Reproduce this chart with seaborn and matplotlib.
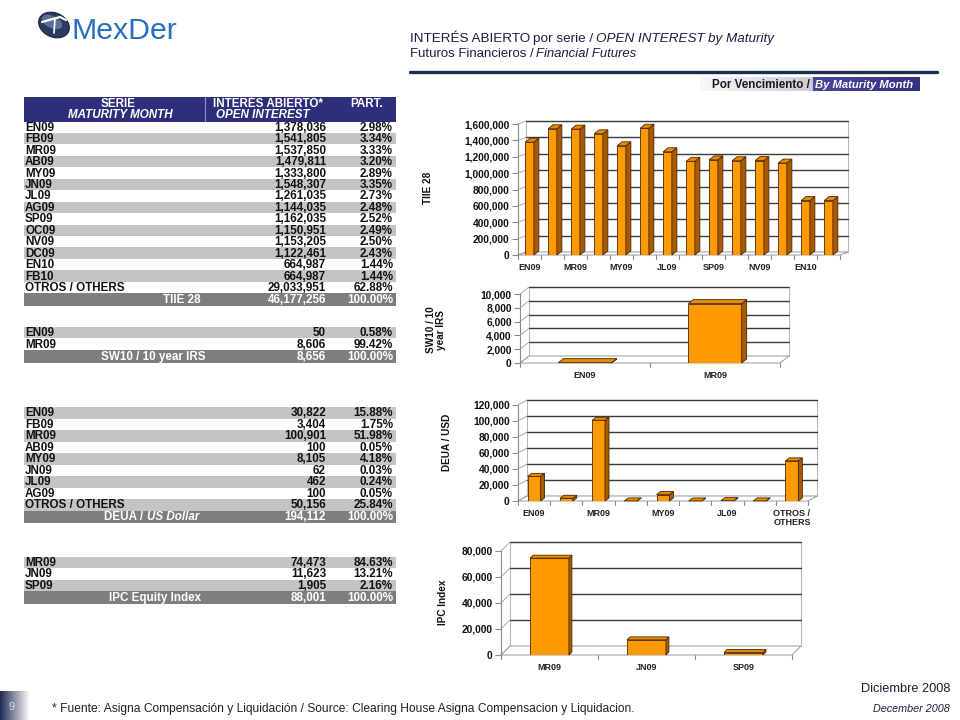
import matplotlib
matplotlib.use("Agg")
import matplotlib.pyplot as plt
import seaborn as sns
import numpy as np
import pandas as pd
from matplotlib.patches import Rectangle, Polygon, Ellipse
from matplotlib.lines import Line2D
from matplotlib.transforms import IdentityTransform

# ---------------- data ----------------
tiie_series = ["EN09", "FB09", "MR09", "AB09", "MY09", "JN09", "JL09", "AG09",
               "SP09", "OC09", "NV09", "DC09", "EN10", "FB10"]
tiie_values = [1378036, 1541805, 1537850, 1479811, 1333800, 1548307, 1261035,
               1144035, 1162035, 1150951, 1153205, 1122461, 664987, 664987]
tiie_pct = [2.98, 3.34, 3.33, 3.20, 2.89, 3.35, 2.73, 2.48, 2.52, 2.49, 2.50,
            2.43, 1.44, 1.44]
tiie_others_label = "OTROS / OTHERS"
tiie_others_value = 29033951
tiie_others_pct = 62.88
tiie_total = 46177256

sw10_series = ["EN09", "MR09"]
sw10_values = [50, 8606]
sw10_pct = [0.58, 99.42]
sw10_total = 8656

deua_series = ["EN09", "FB09", "MR09", "AB09", "MY09", "JN09", "JL09", "AG09",
               "OTROS / OTHERS"]
deua_values = [30822, 3404, 100901, 100, 8105, 62, 462, 100, 50156]
deua_pct = [15.88, 1.75, 51.98, 0.05, 4.18, 0.03, 0.24, 0.05, 25.84]
deua_total = 194112

ipc_series = ["MR09", "JN09", "SP09"]
ipc_values = [74473, 11623, 1905]
ipc_pct = [84.63, 13.21, 2.16]
ipc_total = 88001

tiie_ticks = [0, 200000, 400000, 600000, 800000, 1000000, 1200000, 1400000, 1600000]
sw10_ticks = [0, 2000, 4000, 6000, 8000, 10000]
deua_ticks = [0, 20000, 40000, 60000, 80000, 100000, 120000]
ipc_ticks = [0, 20000, 40000, 60000, 80000]

# ---------------- style ----------------
sns.set_theme(style="white")
plt.rcParams['font.family'] = ['Liberation Sans', 'DejaVu Sans']
NARROW = ['Liberation Sans Narrow', 'Liberation Sans', 'DejaVu Sans']
ORANGE = "#FF9900"
TOP = "#E88A00"
SIDE = "#A85A00"
EDGE = "#4A2800"
NAVY = "#2E2E7C"
GRAYROW = "#C4C4C4"
TOTALROW = "#7E7E7E"

W, H = 960, 720
fig = plt.figure(figsize=(W / 100, H / 100), dpi=100)
fig.patch.set_facecolor("white")
bg = fig.add_axes([0, 0, 1, 1], zorder=0)
bg.set_xlim(0, W)
bg.set_ylim(H, 0)
bg.axis("off")
renderer = fig.canvas.get_renderer()


def fit_text(x, y, s, target_w, size, ha="left", **kw):
    t = bg.text(x, y, s, fontsize=size, ha=ha, **kw)
    w = t.get_window_extent(renderer=renderer).width
    if w > 0:
        t.set_fontsize(size * target_w / w)
    return t


def seq_text(x, y, parts, size, color, family):
    texts = []
    x_start = x
    for s, style, weight in parts:
        t = bg.text(x, y, s, fontsize=size, style=style, weight=weight,
                    family=family, color=color, ha="left", va="baseline")
        texts.append(t)
        x += t.get_window_extent(renderer=renderer).width + size * 0.3
    return texts, x - size * 0.3 - x_start


def seq_text_fit(x, y, parts, size, color, family, target_w):
    texts, w = seq_text(x, y, parts, size, color, family)
    for t in texts:
        t.remove()
    texts, w = seq_text(x, y, parts, size * target_w / w, color, family)
    return texts


# ---------------- header ----------------
# logo
bg.add_patch(Ellipse((54, 25), 32, 24, angle=25, facecolor="#2B3A5E", edgecolor="#1A2540", lw=0.8, zorder=2))
bg.add_patch(Ellipse((52, 22), 22, 12, angle=25, facecolor="#5C6F95", edgecolor="none", zorder=2))
bg.add_line(Line2D([42, 60, 66], [22, 17, 20], color="white", lw=1.6, zorder=3))
bg.add_line(Line2D([55, 54], [18, 33], color="white", lw=1.2, zorder=3))
fit_text(71, 39, "MexDer", 106, 26, color="#2870BE", family=NARROW, va="baseline")

seq_text_fit(410, 42, [("INTERÉS ABIERTO", "normal", "normal"), ("por serie /", "normal", "normal"),
                       ("OPEN INTEREST", "italic", "normal"), ("by Maturity", "italic", "normal")],
             10, "#1C1C40", NARROW, 363)
seq_text_fit(410, 57, [("Futuros Financieros /", "normal", "normal"), ("Financial Futures", "italic", "normal")],
             10, "#1C1C40", NARROW, 228)
bg.add_line(Line2D([410, 937], [72, 72], color="#1B2E4E", lw=2.4))

# banner gradient
grad = np.zeros((1, 300, 3))
cols = np.linspace(0, 1, 300)
c_light = np.array([0.97, 0.97, 0.99])
c_mid = np.array([0.80, 0.80, 0.84])
c_navy1 = np.array([0.28, 0.28, 0.60])
c_navy2 = np.array([0.20, 0.20, 0.50])
split = 0.515
for i, c in enumerate(cols):
    if c < split:
        f = c / split
        grad[0, i] = c_light * (1 - f) + c_mid * f
    else:
        f = (c - split) / (1 - split)
        grad[0, i] = c_navy1 * (1 - f) + c_navy2 * f
bg.imshow(grad, extent=[700, 920, 91, 77], aspect="auto", zorder=1)
fit_text(810, 84.5, "Por Vencimiento /", 98, 8, ha="right", weight="bold", color="#1A1A1A",
         va="center", zorder=2)
fit_text(815, 84.5, "By Maturity Month", 99, 8, ha="left", weight="bold", style="italic",
         color="white", va="center", zorder=2)
bg.set_xlim(0, W)
bg.set_ylim(H, 0)

# ---------------- tables ----------------
TX0, TX1 = 24, 396
VAL_R, PCT_R = 326, 393
FS = 8.4


def fmt_int(v):
    return f"{v:,}"


def fmt_pct(p):
    return f"{p:.2f}%"


def table(rows, y0, rh, first_gray, total_label, total_val, total_pct, lab_x):
    y = y0
    for i, (lab, v, p) in enumerate(rows):
        gray = (i % 2 == 0) == first_gray
        if gray:
            bg.add_patch(Rectangle((TX0, y), TX1 - TX0, rh, facecolor=GRAYROW, edgecolor="none"))
        yc = y + rh / 2 + 0.5
        bg.text(TX0 + 1, yc, lab, fontsize=FS, weight="bold", color="#111111", ha="left", va="center")
        bg.text(VAL_R, yc, fmt_int(v), fontsize=FS, weight="bold", color="#111111", ha="right", va="center")
        bg.text(PCT_R, yc, fmt_pct(p), fontsize=FS, weight="bold", color="#111111", ha="right", va="center")
        y += rh
    bg.add_patch(Rectangle((TX0, y), TX1 - TX0, rh + 1, facecolor=TOTALROW, edgecolor="none"))
    yc = y + rh / 2 + 1
    if isinstance(total_label, tuple):
        bg.text(lab_x, yc, total_label[0], fontsize=FS, weight="bold", color="white", ha="right", va="center")
        bg.text(lab_x + 1, yc, total_label[1], fontsize=FS, weight="bold", style="italic", color="white",
                ha="left", va="center")
    else:
        bg.text(lab_x, yc, total_label, fontsize=FS, weight="bold", color="white", ha="center", va="center")
    bg.text(VAL_R, yc, fmt_int(total_val), fontsize=FS, weight="bold", color="white", ha="right", va="center")
    bg.text(PCT_R, yc, fmt_pct(total_pct), fontsize=FS, weight="bold", color="white", ha="right", va="center")


# header of table 1
bg.add_patch(Rectangle((TX0, 96.5), TX1 - TX0, 25, facecolor=NAVY, edgecolor="none"))
bg.add_line(Line2D([205, 205], [97, 121], color="#9090C0", lw=0.8))
bg.text(118, 104, "SERIE", fontsize=FS, weight="bold", color="white", ha="center", va="center")
bg.text(120, 115, "MATURITY MONTH", fontsize=FS, weight="bold", style="italic", color="white", ha="center", va="center")
bg.text(268, 104, "INTERÉS ABIERTO*", fontsize=FS, weight="bold", color="white", ha="center", va="center")
bg.text(263, 115, "OPEN INTEREST", fontsize=FS, weight="bold", style="italic", color="white", ha="center", va="center")
bg.text(367, 104, "PART.", fontsize=FS, weight="bold", color="white", ha="center", va="center")

rows1 = list(zip(tiie_series, tiie_values, tiie_pct)) + [(tiie_others_label, tiie_others_value, tiie_others_pct)]
table(rows1, 121.5, 11.45, False, "TIIE 28", tiie_total, 100.0, 182)
table(list(zip(sw10_series, sw10_values, sw10_pct)), 326.5, 11.7, True, "SW10 / 10 year IRS", sw10_total, 100.0, 153)
table(list(zip(deua_series, deua_values, deua_pct)), 407, 11.5, True, ("DEUA / ", "US Dollar"), deua_total, 100.0, 146)
table(list(zip(ipc_series, ipc_values, ipc_pct)), 556.5, 11.5, True, "IPC Equity Index", ipc_total, 100.0, 155)


# ---------------- charts ----------------
def chart(left, top, right, bottom, cats, vals, ticks, width, wall_d, bar_d,
          tick_idx, tick_lbls, ylabel, ylab_xy, xlab_fs=6.5):
    ax = fig.add_axes([left / W, 1 - bottom / H, (right - left) / W, (bottom - top) / H], zorder=2)
    ax.patch.set_alpha(0)
    df = pd.DataFrame({"serie": cats, "valor": vals})
    sns.barplot(data=df, x="serie", y="valor", ax=ax, color=ORANGE, saturation=1,
                width=width, edgecolor=EDGE, linewidth=0.6, zorder=3)
    n = len(cats)
    ax.set_xlim(-0.5, n - 0.5)
    ax.set_ylim(0, ticks[-1])
    ax.set_xlabel("")
    ax.set_ylabel("")
    for s in ["top", "right", "bottom"]:
        ax.spines[s].set_visible(False)
    ax.spines["left"].set_color("#8A8A8A")
    ax.spines["left"].set_linewidth(0.8)
    ax.set_yticks(ticks)
    ax.set_yticklabels([f"{t:,}" for t in ticks], fontsize=7.4, weight="bold", color="#111111")
    ax.tick_params(axis="y", length=4, width=0.8, color="#8A8A8A", direction="out", pad=2, left=True)
    ax.set_xticks(tick_idx)
    ax.set_xticklabels(tick_lbls, fontsize=xlab_fs, weight="bold", color="#222222", linespacing=0.95)
    ax.tick_params(axis="x", length=0, pad=6)
    ax.grid(False)

    fig.canvas.draw()
    L = left
    R = right
    B = H - bottom
    T = H - top
    dxw, dyw = wall_d
    idt = IdentityTransform()
    # back wall
    ax.add_patch(Polygon([(L + dxw, B + dyw), (R + dxw, B + dyw), (R + dxw, T + dyw), (L + dxw, T + dyw)],
                         closed=True, facecolor="white", edgecolor="#B8B8B8", lw=0.8,
                         transform=idt, clip_on=False, zorder=0.5))
    # floor
    ax.add_patch(Polygon([(L, B), (R, B), (R + dxw, B + dyw), (L + dxw, B + dyw)], closed=True,
                         facecolor="white", edgecolor="#9A9A9A", lw=0.7,
                         transform=idt, clip_on=False, zorder=0.6))
    # gridlines on wall and side wall diagonals
    for t in ticks:
        yv = ax.transData.transform((0, t))[1]
        if t > 0:
            ax.add_line(Line2D([L + dxw, R + dxw], [yv + dyw, yv + dyw], color="#3C3C3C", lw=1.0,
                               transform=idt, clip_on=False, zorder=0.7))
        ax.add_line(Line2D([L, L + dxw], [yv, yv + dyw], color="#A0A0A0", lw=0.6,
                           transform=idt, clip_on=False, zorder=0.7))
    # x-axis boundary ticks
    for k in range(n + 1):
        xv = ax.transData.transform((k - 0.5, 0))[0]
        ax.add_line(Line2D([xv, xv], [B, B - 4], color="#8A8A8A", lw=0.8,
                           transform=idt, clip_on=False, zorder=0.7))
    # 3D faces of bars
    dxb, dyb = bar_d
    for p in ax.patches[:]:
        if not isinstance(p, Rectangle) or p.get_transform() is idt:
            continue
        x0 = p.get_x()
        x1 = x0 + p.get_width()
        h = p.get_height()
        (X0, Y0) = ax.transData.transform((x0, 0))
        (X1, Y1) = ax.transData.transform((x1, h))
        ax.add_patch(Polygon([(X1, Y0), (X1 + dxb, Y0 + dyb), (X1 + dxb, Y1 + dyb), (X1, Y1)], closed=True,
                             facecolor=SIDE, edgecolor=EDGE, lw=0.6, transform=idt, clip_on=False, zorder=3.1))
        ax.add_patch(Polygon([(X0, Y1), (X0 + dxb, Y1 + dyb), (X1 + dxb, Y1 + dyb), (X1, Y1)], closed=True,
                             facecolor=TOP, edgecolor=EDGE, lw=0.6, transform=idt, clip_on=False, zorder=3.1))
    bg.text(ylab_xy[0], ylab_xy[1], ylabel, rotation=90, fontsize=7.2, weight="bold", family=NARROW,
            color="#111111", ha="center", va="center", linespacing=1.0)
    return ax


chart(518, 124, 840, 255, tiie_series, tiie_values, tiie_ticks, 0.38, (8, 3), (5, 4),
      list(range(0, len(tiie_series), 2)), tiie_series[::2], "TIIE 28", (428, 188))
chart(520, 294, 780, 363, sw10_series, sw10_values, sw10_ticks, 0.41, (9, 7), (5, 4),
      [0, 1], sw10_series, "SW10 / 10\nyear IRS", (436, 330))
deua_lbls = [s.replace(" / ", " /\n") for s in deua_series]
chart(518, 405, 808, 501, deua_series, deua_values, deua_ticks, 0.4, (9, 5), (4, 3),
      list(range(0, len(deua_series), 2)), deua_lbls[::2], "DEUA / USD", (447, 442))
chart(501, 551, 792, 655, ipc_series, ipc_values, ipc_ticks, 0.4, (9, 9), (3, 3),
      [0, 1, 2], ipc_series, "IPC Index", (443, 602))

# ---------------- footer ----------------
fgrad = np.zeros((1, 100, 3))
for i, c in enumerate(np.linspace(0, 1, 100)):
    fgrad[0, i] = np.array([0.12, 0.17, 0.32]) * (1 - c) + np.array([1, 1, 1]) * c
bg.imshow(fgrad, extent=[0, 30, 720, 691], aspect="auto", zorder=1)
bg.text(12, 707, "9", fontsize=8, color="#DDDDEE", ha="center", va="center", zorder=2, family=NARROW)
fit_text(52, 712, "* Fuente: Asigna Compensación y Liquidación / Source: Clearing House Asigna Compensacion y Liquidacion.",
         586, 9, color="#222222", family=NARROW, va="baseline")
fit_text(950, 692, "Diciembre 2008", 90, 10, ha="right", color="#1C1C40", family=NARROW, va="baseline")
fit_text(950, 712, "December 2008", 77, 8, ha="right", style="italic", color="#1C1C40", family=NARROW, va="baseline")
bg.set_xlim(0, W)
bg.set_ylim(H, 0)

fig.savefig("out.png", dpi=100, facecolor="white")
